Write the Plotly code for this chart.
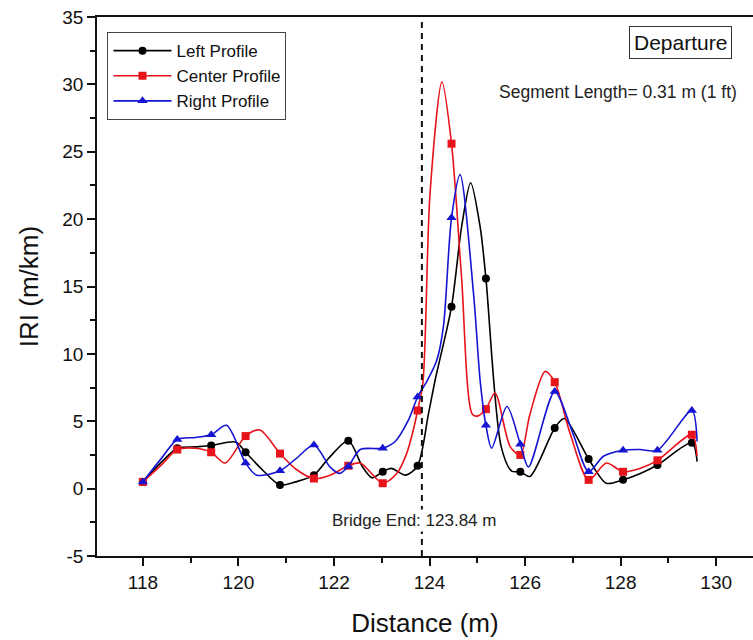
import plotly.graph_objects as go

# Stations where profile markers are plotted (m)
MARKER_X = [118.0, 118.72, 119.43, 120.15, 120.87, 121.58, 122.30, 123.02, 123.75,
            124.46, 125.18, 125.90, 126.62, 127.33, 128.05, 128.77, 129.49]

# IRI (m/km) at marker stations
LEFT_MARK = [0.5, 3.0, 3.2, 2.7, 0.27, 1.0, 3.55, 1.25, 1.7,
             13.5, 15.6, 1.25, 4.5, 2.2, 0.65, 1.75, 3.4]
CENTER_MARK = [0.5, 2.9, 2.7, 3.9, 2.6, 0.75, 1.7, 0.4, 5.8,
               25.6, 5.9, 2.5, 7.9, 0.65, 1.25, 2.1, 4.0]
RIGHT_MARK = [0.5, 3.65, 4.0, 1.9, 1.33, 3.24, 1.65, 3.0, 6.8,
              20.1, 4.7, 3.3, 7.2, 1.26, 2.85, 2.85, 5.8]

# Intermediate segment values between marker stations
LEFT_X = [118.4, 119.1, 119.95, 120.5, 121.2, 121.9, 122.6, 122.8, 123.2, 123.5,
          123.98, 124.12, 124.67, 124.86, 125.06, 125.5, 125.72, 126.1, 126.82,
          127.7, 128.4, 129.6]
LEFT_Y = [2.0, 3.1, 3.45, 1.4, 0.5, 2.3, 1.6, 0.8, 1.5, 1.0,
          5.6, 8.1, 19.4, 22.7, 19.4, 3.1, 1.3, 0.9, 5.2,
          0.4, 1.1, 2.0]

CENTER_X = [118.4, 119.1, 119.72, 120.45, 121.22, 121.92, 122.55, 123.31, 123.52,
            123.66, 123.86, 124.01, 124.26, 124.67, 124.9, 125.02, 125.37, 125.69,
            126.1, 126.42, 126.95, 127.7, 128.4, 129.6]
CENTER_Y = [1.8, 3.0, 1.9, 4.35, 1.4, 1.0, 1.9, 1.1, 2.6,
            4.35, 7.8, 21.9, 30.2, 15.7, 5.5, 5.4, 7.1, 3.1,
            5.5, 8.7, 4.0, 1.9, 1.5, 2.4]

RIGHT_X = [118.4, 119.1, 119.75, 120.38, 121.2, 121.92, 122.12, 122.55, 123.28,
           123.56, 123.95, 124.15, 124.29, 124.64, 124.92, 125.06, 125.3, 125.62,
           126.07, 127.0, 127.64, 128.4, 129.6]
RIGHT_Y = [2.3, 3.8, 4.7, 1.0, 2.2, 1.6, 1.13, 2.9, 3.5,
           5.1, 8.0, 9.5, 12.0, 23.3, 14.5, 8.0, 3.0, 6.1,
           1.6, 4.1, 2.4, 2.9, 3.5]

BRIDGE_END = 123.84

X_TICKS = [118, 120, 122, 124, 126, 128, 130]
Y_TICKS = [-5, 0, 5, 10, 15, 20, 25, 30, 35]
Y_TICK_TEXT = ["-5", "0", "5", "10", "15", "20", "25", "30", "35"]

FONT = "Liberation Sans, Arial, sans-serif"
INK = "#111111"


def merged(xs_a, ys_a, xs_b, ys_b):
    pts = sorted(zip(list(xs_a) + list(xs_b), list(ys_a) + list(ys_b)))
    return [p[0] for p in pts], [p[1] for p in pts]


profiles = [
    ("Left Profile", "#000000", "circle", 8, LEFT_MARK, LEFT_X, LEFT_Y),
    ("Center Profile", "#e8141c", "square", 8, CENTER_MARK, CENTER_X, CENTER_Y),
    ("Right Profile", "#1414d2", "triangle-up", 9, RIGHT_MARK, RIGHT_X, RIGHT_Y),
]

fig = go.Figure()

for name, color, symbol, size, mark_y, ex, ey in profiles:
    cx, cy = merged(MARKER_X, mark_y, ex, ey)
    fig.add_trace(go.Scatter(
        x=cx, y=cy, mode="lines", showlegend=False, hoverinfo="skip",
        line=dict(color=color, width=1.6, shape="spline", smoothing=0.8),
    ))
    fig.add_trace(go.Scatter(
        x=MARKER_X, y=mark_y, mode="markers", showlegend=False, name=name,
        marker=dict(color=color, symbol=symbol, size=size),
    ))
    fig.add_trace(go.Scatter(
        x=[None], y=[None], mode="lines+markers", name=name,
        line=dict(color=color, width=1.6),
        marker=dict(color=color, symbol=symbol, size=size),
    ))

# Bridge end marker line
fig.add_shape(type="line", x0=BRIDGE_END, x1=BRIDGE_END, y0=-5, y1=35,
              xref="x", yref="y", line=dict(color=INK, width=2, dash="6px,5px"))

fig.add_annotation(x=BRIDGE_END, y=-2.4, xref="x", yref="y", xshift=-8,
                   text=f"Bridge End: {BRIDGE_END:.2f} m", showarrow=False,
                   bgcolor="white", borderpad=1,
                   font=dict(family=FONT, size=17, color="#222222"))
fig.add_annotation(x=129.25, y=33.1, xref="x", yref="y", text="Departure",
                   showarrow=False, bordercolor="#333333", borderwidth=1, borderpad=4,
                   font=dict(family=FONT, size=21, color=INK))
fig.add_annotation(x=127.95, y=29.4, xref="x", yref="y",
                   text="Segment Length= 0.31 m (1 ft)", showarrow=False,
                   font=dict(family=FONT, size=17.5, color="#222222"))

fig.update_layout(
    width=753, height=640,
    margin=dict(l=97, r=0, t=17, b=84),
    paper_bgcolor="white", plot_bgcolor="white",
    font=dict(family=FONT, color=INK),
    legend=dict(x=0.016, y=0.972, xanchor="left", yanchor="top",
                bordercolor="#444444", borderwidth=1, bgcolor="white",
                font=dict(family=FONT, size=17, color=INK),
                tracegroupgap=0, itemwidth=58),
)

fig.update_xaxes(
    range=[117.04, 130.77], tickmode="array", tickvals=X_TICKS,
    showgrid=False, zeroline=False,
    showline=True, linecolor=INK, linewidth=1.5, mirror=True,
    ticks="outside", ticklen=8, tickwidth=1.5, tickcolor=INK,
    tickfont=dict(family=FONT, size=19, color=INK),
    minor=dict(ticks="outside", ticklen=5, tickwidth=1.5, tickcolor=INK, dtick=1, tick0=118),
    title=dict(text="Distance (m)", font=dict(family=FONT, size=26, color=INK), standoff=22),
)
fig.update_yaxes(
    range=[-5, 35], tickmode="array", tickvals=Y_TICKS, ticktext=Y_TICK_TEXT,
    showgrid=False, zeroline=False,
    showline=True, linecolor=INK, linewidth=1.5,
    ticks="outside", ticklen=8, tickwidth=1.5, tickcolor=INK,
    tickfont=dict(family=FONT, size=19, color=INK),
    minor=dict(ticks="outside", ticklen=5, tickwidth=1.5, tickcolor=INK, dtick=2.5, tick0=-5),
    title=dict(text="IRI (m/km)", font=dict(family=FONT, size=26, color=INK), standoff=16),
)

fig.write_html("out.html")
